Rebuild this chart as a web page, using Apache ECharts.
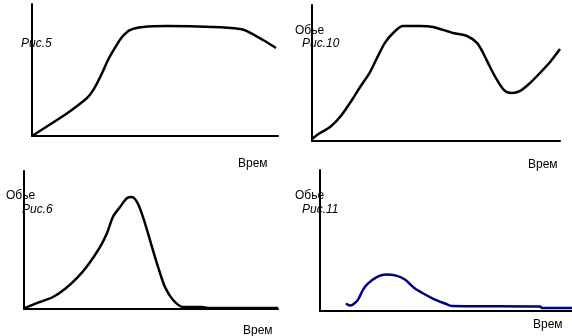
<!DOCTYPE html>
<html>
<head>
<meta charset="utf-8">
<script src="https://cdn.jsdelivr.net/npm/echarts@6/dist/echarts.min.js"></script>
<style>
  html, body { margin: 0; padding: 0; background: #fff; }
  #chart { width: 572px; height: 336px; }
</style>
</head>
<body>
<div id="chart"></div>
<script>
// Рис.5 — volume vs time (0..100 on both axes)
var fig5Time   = [0, 11.4, 16.7, 22.4, 25.6, 28.5, 30.9, 33.7, 36.6, 39.8, 45.1, 54.9, 73.6, 84.6, 87.4, 93.9, 99.2];
var fig5Volume = [0, 13.6, 20.5, 28.8, 37.1, 47.7, 57.6, 66.7, 75.0, 80.3, 82.6, 83.3, 82.6, 81.1, 79.5, 72.7, 66.7];

// Рис.10
var fig10Time   = [0, 3.2, 7.3, 11.3, 15.3, 19.4, 23.4, 26.2, 29.4, 32.7, 36.7, 43.5, 48.8, 56.9, 62.5, 66.5, 69.0, 71.8, 74.6, 77.8, 80.6, 83.9, 87.9, 91.9, 96.0, 100];
var fig10Volume = [1.5, 5.9, 10.3, 17.6, 27.9, 39.7, 50.7, 61.0, 72.1, 79.4, 84.6, 84.6, 83.8, 79.4, 77.2, 72.1, 64.7, 54.4, 44.9, 36.8, 35.3, 36.8, 42.6, 50.0, 58.1, 67.6];

// Рис.6
var fig6Time   = [0, 6.3, 11.4, 16.1, 20.9, 25.2, 29.9, 32.7, 35.0, 37.8, 40.6, 42.5, 44.9, 47.6, 50.4, 52.8, 55.5, 58.7, 62.6, 70.1, 72.4, 100];
var fig6Volume = [0.5, 5.1, 8.7, 14.5, 22.5, 31.9, 44.9, 55.1, 66.7, 73.9, 80.4, 81.2, 76.1, 62.3, 44.9, 30.4, 15.9, 6.5, 1.4, 1.4, 0.7, 0.7];

// Рис.11
var fig11Time   = [10.3, 11.9, 13.1, 15.1, 17.1, 19.0, 22.2, 26.2, 30.2, 33.7, 37.7, 41.7, 45.6, 49.6, 52.4, 87.3, 88.1, 100];
var fig11Volume = [5.3, 3.9, 4.6, 8.1, 15.2, 19.4, 23.7, 25.8, 25.1, 22.3, 15.9, 11.7, 8.1, 5.3, 3.5, 3.2, 2.1, 2.1];

// Labels
var axisTimeLabel = 'Врем';
var axisVolumeLabel = 'Обье';
var figureLabels = ['Рис.5', 'Рис.10', 'Рис.6', 'Рис.11'];

function zip(xs, ys) {
  return xs.map(function (x, i) { return [x, ys[i]]; });
}

var panels = [
  { grid: { left: 32, top: 4, width: 246, height: 132 }, data: zip(fig5Time, fig5Volume), color: '#000000' },
  { grid: { left: 312, top: 5, width: 248, height: 136 }, data: zip(fig10Time, fig10Volume), color: '#000000' },
  { grid: { left: 24, top: 171, width: 254, height: 138 }, data: zip(fig6Time, fig6Volume), color: '#000000' },
  { grid: { left: 320, top: 170, width: 252, height: 141 }, data: zip(fig11Time, fig11Volume), color: '#000080' }
];

var axisBase = {
  type: 'value', min: 0, max: 100,
  axisLine: { show: true, lineStyle: { color: '#000', width: 2 } },
  axisTick: { show: false },
  axisLabel: { show: false },
  splitLine: { show: false }
};

var grids = [], xAxes = [], yAxes = [], series = [];
panels.forEach(function (p, i) {
  grids.push(Object.assign({ containLabel: false }, p.grid));
  xAxes.push(Object.assign({ gridIndex: i }, axisBase));
  yAxes.push(Object.assign({ gridIndex: i }, axisBase));
  series.push({
    type: 'line',
    xAxisIndex: i, yAxisIndex: i,
    data: p.data,
    smooth: 0.3,
    showSymbol: false,
    silent: true,
    lineStyle: { color: p.color, width: 2.5 }
  });
});

function label(text, x, y, italic) {
  return {
    type: 'text', x: x, y: y, z: 10,
    style: {
      text: text,
      font: (italic ? 'italic ' : '') + '12px "Liberation Sans", Arial, sans-serif',
      fill: '#000',
      align: 'left',
      verticalAlign: 'middle'
    }
  };
}

var graphics = [
  label(figureLabels[0], 21, 44, true),
  label(axisTimeLabel, 238, 164, false),

  label(axisVolumeLabel, 295, 31, false),
  label(figureLabels[1], 302, 44, true),
  label(axisTimeLabel, 528, 165, false),

  label(axisVolumeLabel, 6, 196, false),
  label(figureLabels[2], 22, 210, true),
  label(axisTimeLabel, 243, 331, false),

  label(axisVolumeLabel, 295, 196, false),
  label(figureLabels[3], 302, 210, true),
  label(axisTimeLabel, 533, 325, false)
];

var chart = echarts.init(document.getElementById('chart'), null, { renderer: 'canvas' });
chart.setOption({
  animation: false,
  backgroundColor: '#ffffff',
  grid: grids,
  xAxis: xAxes,
  yAxis: yAxes,
  series: series,
  graphic: graphics
});
</script>
</body>
</html>
